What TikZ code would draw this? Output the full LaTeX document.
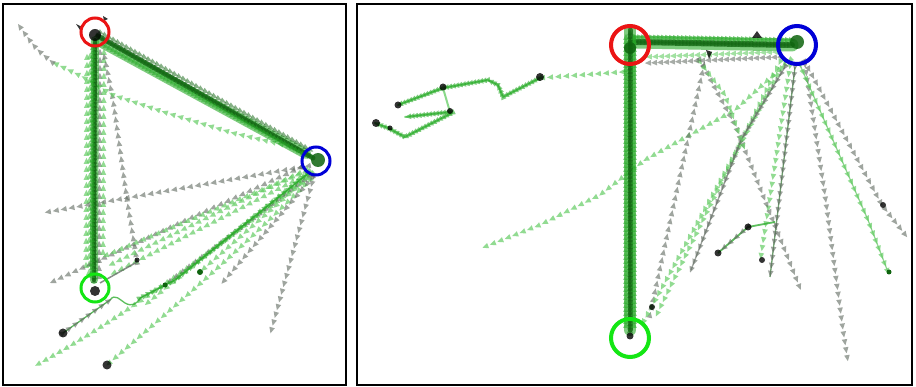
\documentclass[tikz,border=0pt]{standalone}
\usetikzlibrary{decorations.markings}
\definecolor{lgr}{RGB}{100,205,100}
\definecolor{gry}{RGB}{95,105,95}
\definecolor{dgr}{RGB}{15,100,15}
\definecolor{mgr}{RGB}{40,170,40}
\definecolor{ringred}{RGB}{235,20,20}
\definecolor{ringblue}{RGB}{0,0,215}
\definecolor{ringgreen}{RGB}{20,230,20}
\tikzset{
  tris/.style 2 args={postaction={decorate,decoration={markings,
      mark=between positions 0 and 1 step #2 with {\fill[#1] (3.2pt,0) -- (-2.8pt,2.8pt) -- (-2.8pt,-2.8pt) -- cycle;}}}},
  lgt/.style={tris={lgr,fill opacity=0.7}{8pt}},
  gyt/.style={tris={gry,fill opacity=0.6}{8pt}},
  mgt/.style={tris={mgr,fill opacity=0.6}{5pt}},
  dkt/.style={tris={dgr,fill opacity=0.5}{3.5pt}},
  bgt/.style={tris={mgr,fill opacity=0.55}{4pt}},
  band/.style={draw=dgr,line width=#1,draw opacity=0.75,line cap=round,line join=round},
  lband/.style={draw=mgr,line width=#1,draw opacity=0.6,line cap=round,line join=round},
  thin/.style={draw=mgr,line width=1.3pt,draw opacity=0.75,line cap=round,line join=round},
  blob/.style={fill=black,fill opacity=0.8},
  frame/.style={draw=black,line width=2.5pt},
  ring/.style={line width=#1}
}
\begin{document}
\begin{tikzpicture}[x=1pt,y=-1pt]
\useasboundingbox (0,0) rectangle (916,387);
\fill[white] (0,0) rectangle (916,387);

% ================= LEFT PANEL =================
\path[lgt] (89,272) -- (90,50);
\path[gyt] (99,276) -- (100,50);
\path[lgt] (103,252) -- (104,50);
\path[lgt] (86,265) -- (87,55);
\path[gyt] (137,262) -- (127,200) -- (113,100) -- (103,50);
\path[lgt] (310,156) -- (293,147) -- (233,133) -- (167,113) -- (113,95) -- (83,77) -- (52,62);
\path[gyt] (52,62) .. controls (35,48) .. (18,24);
\path[gyt] (308,166) -- (48,212);
\path[gyt] (300,168) -- (50,283);
\path[lgt] (305,172) -- (100,258);
\path[lgt] (306,175) -- (108,276);
\path[lgt] (306,170) -- (110,265);
\path[lgt] (308,178) .. controls (200,260) and (120,320) .. (33,367);
\path[lgt] (310,180) .. controls (230,260) and (170,310) .. (107,365);
\path[gyt] (312,178) -- (223,282);
\path[gyt] (310,176) -- (165,285);
\path[gyt] (314,176) -- (270,335);
\path[lgt] (312,174) -- (200,272);
\path[lgt] (309,172) -- (145,305);
\draw[thin] (63,333) -- (110,300) .. controls (115,293) and (120,300) .. (125,303)
  .. controls (132,307) and (137,304) .. (140,298) -- (175,280) -- (310,172);
\path[mgt] (140,298) -- (175,280) -- (310,172);
\path[gyt] (63,333) -- (110,300);
\draw[draw=gry,line width=1.5pt,draw opacity=0.75] (100,283) -- (137,262);
% bundles
\draw[lband=10pt] (100,42) -- (306,154);
\draw[band=5pt] (98,36) -- (313,158);
\path[dkt] (98,36) -- (313,158);
\path[bgt] (103,45) -- (305,155);
\path[tris={dgr,fill opacity=0.5}{5pt}] (101,33) -- (312,151);
\draw[lband=8pt] (95,40) -- (94,280);
\draw[band=4pt] (95,40) -- (94,280);
\path[dkt] (94,280) -- (95,40);
\path[bgt] (92,275) -- (93,45);
% blobs
\fill[blob] (95,35) circle[radius=6pt];
\fill[dgr,fill opacity=0.85] (318,160) circle[radius=7pt];
\fill[blob] (95,291) circle[radius=5pt];
\fill[blob] (63,333) circle[radius=4.5pt];
\fill[blob] (107,365) circle[radius=4.5pt];
\fill[blob] (137,260) circle[radius=2.5pt];
\fill[dgr] (200,272) circle[radius=3pt];
\fill[dgr] (165,285) circle[radius=2.5pt];
\fill[blob] (76,24) -- (82,27) -- (80,30) -- cycle;
\fill[blob] (103,16) -- (108,19) -- (104,21) -- cycle;
% rings
\draw[ring=3pt,ringred] (95,32) circle[radius=14pt];
\draw[ring=3pt,ringblue] (316,161) circle[radius=14pt];
\draw[ring=3pt,ringgreen] (95,288) circle[radius=14pt];
\draw[frame] (3,4) rectangle (346,385);

% ================= RIGHT PANEL =================
\path[lgt] (622,72) -- (540,78);
\draw[thin,draw=lgr,line width=2pt] (540,78) -- (503,97) -- (498,85) -- (488,80) -- (443,88) -- (398,105);
\path[tris={mgr,fill opacity=0.6}{3.5pt}] (540,78) -- (503,97) -- (498,85) -- (488,80) -- (443,88) -- (398,105);
\draw[thin,draw=lgr,line width=2pt] (443,88) -- (450,112) -- (405,117);
\path[tris={mgr,fill opacity=0.6}{3.5pt}] (450,112) -- (405,117);
\draw[thin,draw=lgr,line width=2pt] (452,113) -- (405,137) -- (388,128) -- (375,123);
\path[tris={mgr,fill opacity=0.6}{3.5pt}] (452,113) -- (405,137) -- (388,128) -- (375,123);
\path[lgt] (790,60) -- (735,110) -- (645,160) -- (600,195) -- (540,225) -- (482,248);
\path[gyt] (650,315) -- (705,60);
\path[lgt] (785,62) -- (640,328);
\path[lgt] (780,62) -- (655,318);
\draw[draw=gry,line width=1.3pt,draw opacity=0.6] (785,67) -- (741,140) -- (691,270);
\path[gyt] (785,67) -- (741,140) -- (691,270);
\draw[draw=dgr,line width=1.3pt,draw opacity=0.6] (795,67) -- (770,277);
\path[gyt] (795,67) -- (770,277);
\path[lgt] (790,66) -- (760,262);
\path[gyt] (700,60) -- (735,125) -- (802,293);
\path[lgt] (700,62) -- (725,95) -- (745,150);
\path[gyt] (805,65) -- (825,195) -- (843,330) -- (848,362);
\draw[draw=mgr,line width=1.2pt,draw opacity=0.5] (800,65) -- (868,220) -- (888,272);
\path[lgt] (800,65) -- (868,220) -- (888,272);
\path[gyt] (805,62) -- (882,205) -- (907,237);
\draw[draw=mgr,line width=1.8pt,draw opacity=0.75] (718,253) -- (748,227) -- (775,222);
\path[gyt] (748,227) -- (718,253);
% bundles
\draw[lband=13pt] (636,42) -- (792,45);
\draw[band=6pt] (636,42) -- (792,45);
\path[dkt] (636,42) -- (792,45);
\path[bgt] (636,37) -- (792,40);
\path[tris={gry,fill opacity=0.55}{6pt}] (780,57) -- (648,63);
\path[tris={lgr,fill opacity=0.6}{6pt}] (775,52) -- (645,57);
\draw[lband=12pt] (630,30) -- (630,330);
\draw[band=5pt] (630,30) -- (630,330);
\path[dkt] (630,330) -- (630,30);
\path[bgt] (626,325) -- (626,35);
\path[bgt] (634,325) -- (634,35);
% blobs
\fill[blob] (757,31) -- (762,38) -- (752,38) -- cycle;
\fill[blob] (706,50) -- (712,52) -- (709,59) -- cycle;
\fill[dgr,fill opacity=0.85] (797,42) circle[radius=7pt];
\fill[dgr,fill opacity=0.85] (630,48) circle[radius=6pt];
\fill[blob] (630,336) circle[radius=3.5pt];
\fill[blob] (540,77) circle[radius=4pt];
\fill[blob] (443,87) circle[radius=3.5pt];
\fill[blob] (398,105) circle[radius=3.5pt];
\fill[blob] (450,111) circle[radius=3pt];
\fill[blob] (376,123) circle[radius=4pt];
\fill[blob] (390,128) circle[radius=2.5pt];
\fill[blob] (718,253) circle[radius=3.5pt];
\fill[blob] (748,227) circle[radius=3.5pt];
\fill[blob] (762,260) circle[radius=3pt];
\fill[blob] (652,307) circle[radius=3pt];
\fill[blob] (883,205) circle[radius=3pt];
\fill[dgr] (889,272) circle[radius=2.5pt];
% rings
\draw[ring=4pt,ringred] (630,45) circle[radius=19pt];
\draw[ring=4pt,ringblue] (797,45) circle[radius=19pt];
\draw[ring=4pt,ringgreen] (630,338) circle[radius=19pt];
\draw[frame] (357,4) rectangle (912,385);
\end{tikzpicture}
\end{document}
